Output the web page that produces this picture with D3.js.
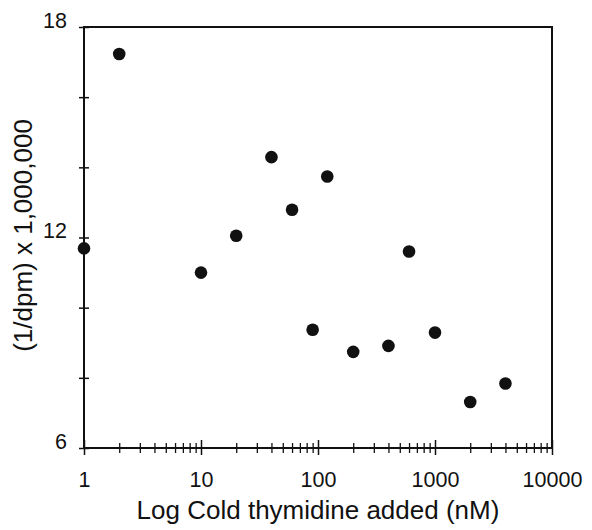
<!DOCTYPE html>
<html>
<head>
<meta charset="utf-8">
<script src="https://cdn.jsdelivr.net/npm/d3@7/dist/d3.min.js"></script>
<style>
  body { margin: 0; background: #fff; }
  text { font-family: "Liberation Sans", Arial, sans-serif; fill: #111; }
</style>
</head>
<body>
<svg width="592" height="530"></svg>
<script>
// cold thymidine added (nM) and 1/dpm x 1e6
var concentration = [1, 2, 10, 20, 40, 60, 90, 120, 200, 400, 600, 1000, 2000, 4000];
var inverseDpm    = [11.69, 17.23, 11.0, 12.05, 14.29, 12.79, 9.37, 13.74, 8.74, 8.91, 11.6, 9.29, 7.31, 7.84];
var xMajorTicks = [1, 10, 100, 1000, 10000];
var yTicks = [6, 8, 10, 12, 14, 16, 18];
var yLabelled = [6, 12, 18];

var svg = d3.select("svg"),
    margin = {top: 27, right: 40, bottom: 82, left: 84},
    width = +svg.attr("width") - margin.left - margin.right,
    height = +svg.attr("height") - margin.top - margin.bottom,
    g = svg.append("g").attr("transform", "translate(" + margin.left + "," + margin.top + ")");

var x = d3.scaleLog().domain([1, 10000]).range([0, width]);
var y = d3.scaleLinear().domain([6, 18]).range([height, 0]);

// minor x ticks (2..9 in each decade)
var xMinor = [];
for (var d = 1; d < 10000; d *= 10)
  for (var k = 2; k < 10; k++) xMinor.push(d * k);

g.append("g")
    .attr("transform", "translate(0," + (height - 5) + ")")
    .call(d3.axisBottom(x).tickValues(xMinor).tickSize(10).tickFormat(""))
    .call(function(a) { a.select(".domain").remove(); })
    .selectAll("line").attr("stroke", "#111").attr("stroke-width", 1.3);

var xMaj = g.append("g")
    .attr("transform", "translate(0," + (height - 8) + ")")
    .call(d3.axisBottom(x).tickValues(xMajorTicks).tickSize(15).tickPadding(17)
      .tickFormat(d3.format("d")));
xMaj.select(".domain").remove();
xMaj.selectAll("line").attr("stroke", "#111").attr("stroke-width", 1.5);
xMaj.selectAll("text").attr("font-size", 21.5).attr("font-family", "Liberation Sans, Arial, sans-serif");

// y ticks crossing the axis
var yAx = g.append("g")
    .attr("transform", "translate(5,0)")
    .call(d3.axisLeft(y).tickValues(yTicks).tickSize(10).tickPadding(12)
      .tickFormat(function(v) { return yLabelled.indexOf(v) >= 0 ? v : ""; }));
yAx.select(".domain").remove();
yAx.selectAll("line").attr("stroke", "#111").attr("stroke-width", 1.5);
yAx.selectAll("text").attr("font-size", 21.5).attr("dy", "0em")
    .attr("font-family", "Liberation Sans, Arial, sans-serif");

// frame
g.append("rect")
    .attr("width", width).attr("height", height)
    .attr("fill", "none").attr("stroke", "#111").attr("stroke-width", 2);

// points
g.selectAll("circle.pt")
  .data(concentration)
  .enter().append("circle")
    .attr("class", "pt")
    .attr("cx", function(d) { return x(d); })
    .attr("cy", function(d, i) { return y(inverseDpm[i]); })
    .attr("r", 6.3)
    .attr("fill", "#111");

// axis titles
svg.append("text")
    .attr("x", margin.left + width / 2)
    .attr("y", 519)
    .attr("text-anchor", "middle")
    .attr("font-size", 26)
    .text("Log Cold thymidine added (nM)");

svg.append("text")
    .attr("transform", "translate(32," + (margin.top + height / 2 - 2) + ") rotate(-90)")
    .attr("text-anchor", "middle")
    .attr("font-size", 26)
    .text("(1/dpm) x 1,000,000");
</script>
</body>
</html>
